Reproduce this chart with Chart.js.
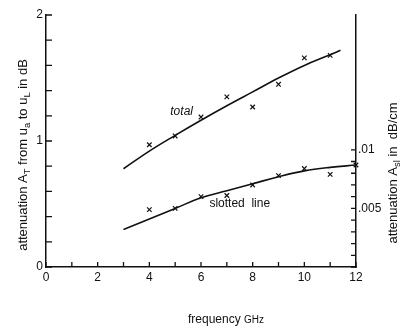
<!DOCTYPE html>
<html>
<head>
<meta charset="utf-8">
<script src="https://cdn.jsdelivr.net/npm/chart.js@4.4.1/dist/chart.umd.min.js"></script>
<style>
html, body { margin: 0; padding: 0; background: #fff; }
canvas { display: block; }
</style>
</head>
<body>
<canvas id="myChart" width="402" height="328"></canvas>
<script>
// measured points, x in GHz
var totalFreq = [4, 5, 6, 7, 8, 9, 10, 11];
var totalMeasured = [0.97, 1.04, 1.19, 1.35, 1.27, 1.45, 1.66, 1.68];        // dB
var slotFreq = [4, 5, 6, 7, 8, 9, 10, 11, 12];
var slotMeasured = [0.0049, 0.0050, 0.0060, 0.0061, 0.0070, 0.0078, 0.0084, 0.0079, 0.0087]; // dB/cm

// drawn curves
var totalCurveFreq = [3, 4, 5, 6, 7, 8, 9, 10, 11, 11.4];
var totalCurve = [0.78, 0.92, 1.045, 1.165, 1.28, 1.39, 1.50, 1.60, 1.685, 1.72];
var slotCurveFreq = [3, 4, 5, 6, 7, 8, 9, 10, 11, 12];
var slotCurve = [0.0032, 0.0041, 0.0050, 0.0059, 0.0065, 0.0071, 0.0077, 0.0082, 0.0085, 0.0087];

// tick labels
var xTickLabels = [0, 2, 4, 6, 8, 10, 12];
var leftTickLabels = [0, 1, 2];
var rightTickValues = [0.005, 0.01];
var rightTickLabels = ['.005', '.01'];

var FONT = '"Liberation Sans", Arial, sans-serif';
var INK = '#111';

function pts(xs, ys) {
  return xs.map(function (x, i) { return { x: x, y: ys[i] }; });
}

// draws text made of pieces [text, sub?, size?], centred on the origin
function richText(c, parts, size) {
  function fontOf(p) {
    var s = p[2] || (p[1] ? size * 0.72 : size);
    return s + 'px ' + FONT;
  }
  var w = 0;
  parts.forEach(function (p) {
    c.font = fontOf(p);
    w += c.measureText(p[0]).width;
  });
  var x = -w / 2;
  parts.forEach(function (p) {
    c.font = fontOf(p);
    c.fillText(p[0], x, p[1] ? size * 0.32 : 0);
    x += c.measureText(p[0]).width;
  });
}

// tick marks pointing into the plot
var insideTicks = {
  id: 'insideTicks',
  afterDraw: function (chart) {
    var c = chart.ctx, a = chart.chartArea;
    var sx = chart.scales.x, sy = chart.scales.y, sr = chart.scales.y2;
    c.save();
    c.strokeStyle = INK;
    c.lineWidth = 1.3;
    c.beginPath();
    sx.ticks.forEach(function (t) {
      var p = sx.getPixelForValue(t.value);
      c.moveTo(p, a.bottom); c.lineTo(p, a.bottom - 5);
    });
    sy.ticks.forEach(function (t) {
      var p = sy.getPixelForValue(t.value);
      c.moveTo(a.left, p); c.lineTo(a.left + 6, p);
    });
    sr.ticks.forEach(function (t) {
      if (t.value > 0.01 + 1e-9) return;
      var p = sr.getPixelForValue(t.value);
      c.moveTo(a.right, p); c.lineTo(a.right - 5, p);
    });
    c.stroke();
    c.restore();
  }
};

// axis titles and curve labels
var texts = {
  id: 'texts',
  afterDraw: function (chart) {
    var c = chart.ctx, a = chart.chartArea;
    var sx = chart.scales.x, sy = chart.scales.y;
    c.save();
    c.fillStyle = INK;
    c.textBaseline = 'middle';
    c.textAlign = 'left';

    c.save();
    c.translate(23, (a.top + a.bottom) / 2 + 14);
    c.rotate(-Math.PI / 2);
    richText(c, [['attenuation A'], ['T', 1], [' from u'], ['a', 1], [' to u'], ['L', 1], [' in dB']], 13);
    c.restore();

    c.save();
    c.translate(393, (a.top + a.bottom) / 2 + 32);
    c.rotate(-Math.PI / 2);
    richText(c, [['attenuation A'], ['sl', 1], [' in  dB/cm']], 13);
    c.restore();

    c.save();
    c.translate((a.left + a.right) / 2 + 25, 320);
    richText(c, [['frequency '], ['GHz', 0, 10]], 12);
    c.restore();

    c.textAlign = 'center';
    c.font = 'italic 12px ' + FONT;
    c.fillText('total', sx.getPixelForValue(5.25), sy.getPixelForValue(1.23));
    c.font = '12px ' + FONT;
    c.fillText('slotted  line', sx.getPixelForValue(7.5), sy.getPixelForValue(0.5));
    c.restore();
  }
};

var tickFont = { family: FONT, size: 12 };

var ctx = document.getElementById('myChart').getContext('2d');
var chart = new Chart(ctx, {
  type: 'scatter',
  data: {
    datasets: [
      {
        type: 'line',
        data: pts(totalCurveFreq, totalCurve),
        yAxisID: 'y',
        borderColor: INK,
        borderWidth: 1.6,
        pointRadius: 0,
        tension: 0.4,
        fill: false
      },
      {
        type: 'line',
        data: pts(slotCurveFreq, slotCurve),
        yAxisID: 'y2',
        borderColor: INK,
        borderWidth: 1.6,
        pointRadius: 0,
        tension: 0.4,
        fill: false,
        clip: false
      },
      {
        data: pts(totalFreq, totalMeasured),
        yAxisID: 'y',
        pointStyle: 'crossRot',
        pointRadius: 3.2,
        borderColor: INK,
        borderWidth: 1.2,
        clip: false
      },
      {
        data: pts(slotFreq, slotMeasured),
        yAxisID: 'y2',
        pointStyle: 'crossRot',
        pointRadius: 3.2,
        borderColor: INK,
        borderWidth: 1.2,
        clip: false
      }
    ]
  },
  options: {
    responsive: false,
    animation: false,
    devicePixelRatio: 1,
    layout: { padding: { top: 15 } },
    plugins: { legend: { display: false }, tooltip: { enabled: false } },
    scales: {
      x: {
        type: 'linear', min: 0, max: 12,
        grid: { display: false, drawTicks: false },
        border: { color: INK, width: 1.5 },
        ticks: {
          stepSize: 1, autoSkip: false, maxRotation: 0, padding: 3, color: INK, font: tickFont,
          callback: function (v) { return xTickLabels.indexOf(v) >= 0 ? String(v) : ''; }
        },
        afterFit: function (s) { s.height = 61; }
      },
      y: {
        type: 'linear', position: 'left', min: 0, max: 2,
        grid: { display: false, drawTicks: false },
        border: { color: INK, width: 1.5 },
        ticks: {
          stepSize: 0.2, autoSkip: false, padding: 3, color: INK, font: tickFont,
          callback: function (v) {
            for (var i = 0; i < leftTickLabels.length; i++) {
              if (Math.abs(leftTickLabels[i] - v) < 1e-6) return String(leftTickLabels[i]);
            }
            return '';
          }
        },
        afterFit: function (s) { s.width = 46; }
      },
      y2: {
        type: 'linear', position: 'right', min: 0, max: 0.0215,
        grid: { display: false, drawTicks: false },
        border: { color: INK, width: 1.5 },
        ticks: {
          stepSize: 0.001, autoSkip: false, padding: 2, color: INK, font: tickFont,
          callback: function (v) {
            for (var i = 0; i < rightTickValues.length; i++) {
              if (Math.abs(rightTickValues[i] - v) < 1e-9) return rightTickLabels[i];
            }
            return '';
          }
        },
        afterFit: function (s) { s.width = 46; }
      }
    }
  },
  plugins: [insideTicks, texts]
});
</script>
</body>
</html>
